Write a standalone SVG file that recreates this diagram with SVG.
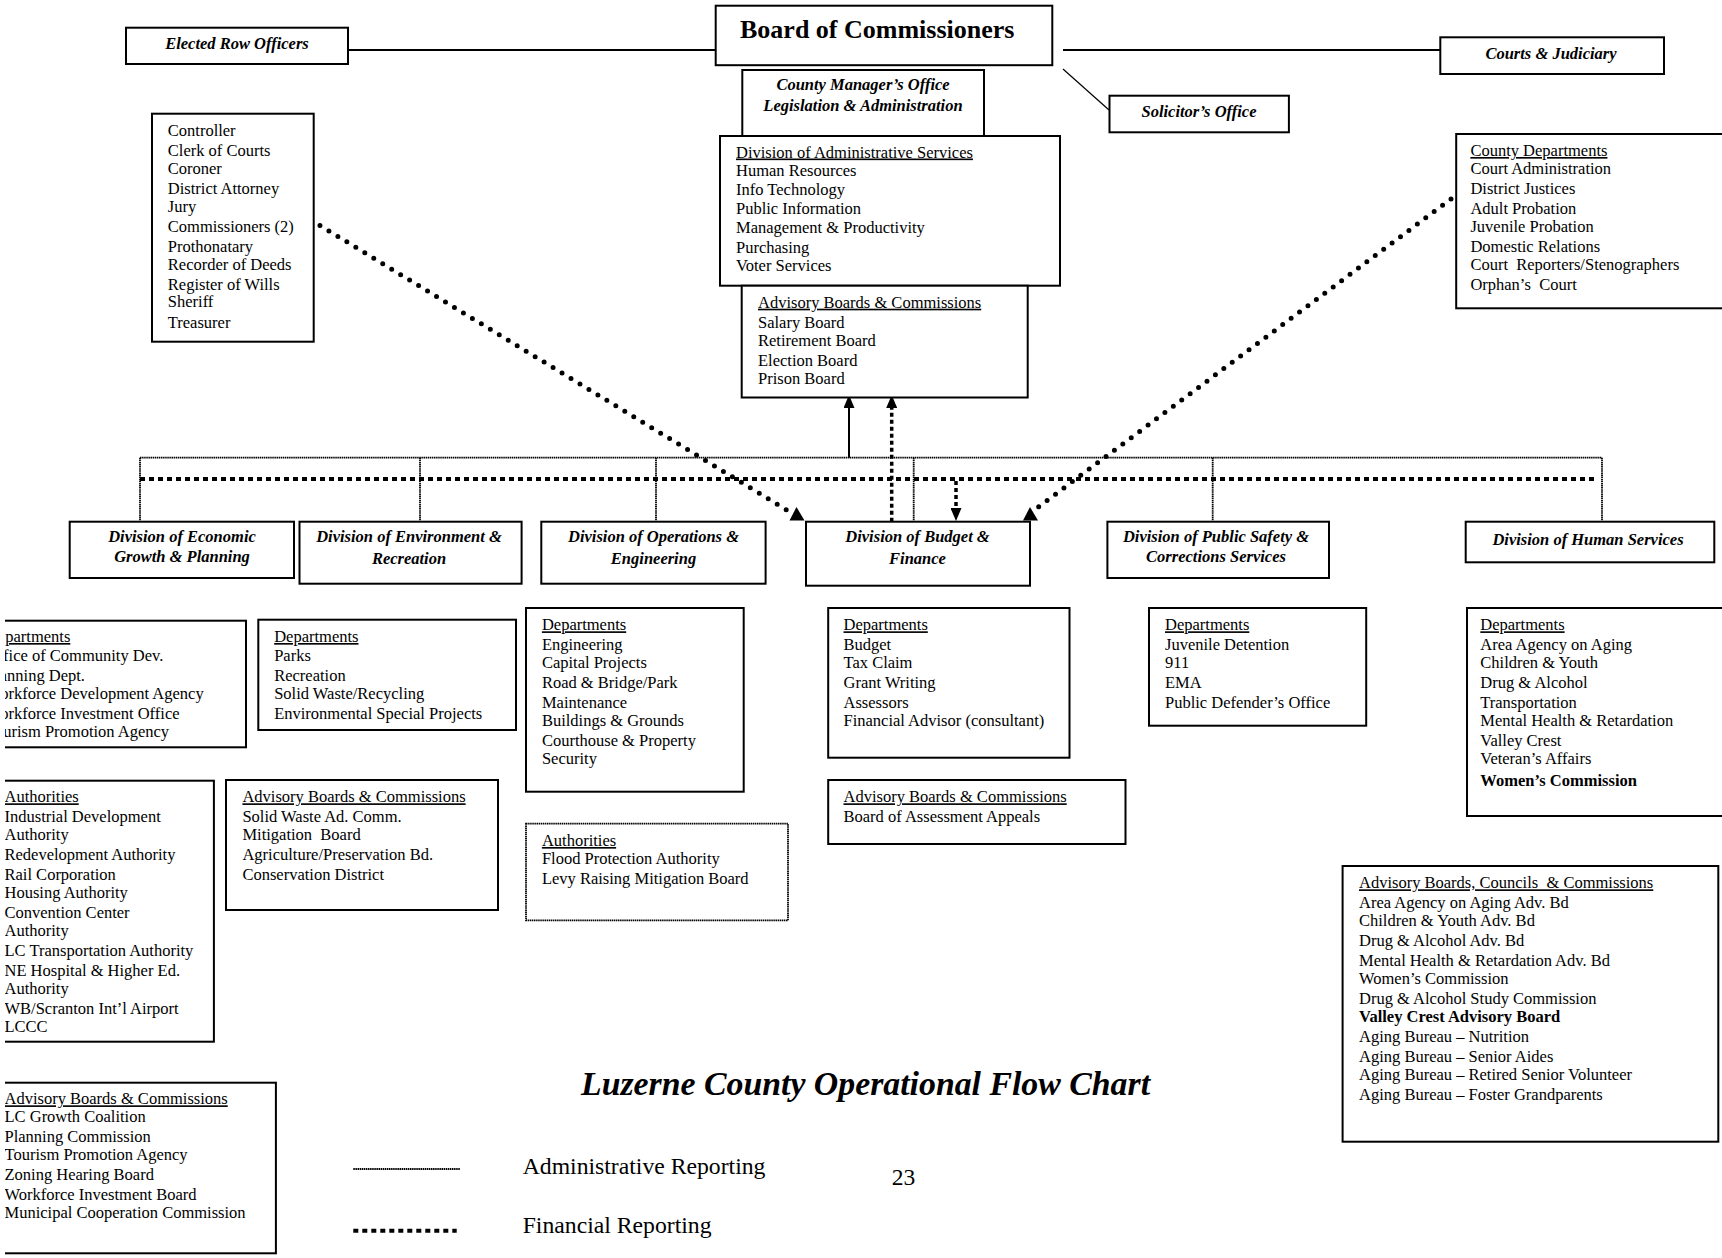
<svg xmlns="http://www.w3.org/2000/svg" xmlns:xlink="http://www.w3.org/1999/xlink" width="1722" height="1258" viewBox="0 0 1722 1258" xml:space="preserve">
<style>
text{font-family:"Liberation Serif","Times New Roman",serif;font-size:16.5px;fill:#000;white-space:pre}
.bi{font-weight:bold;font-style:italic}
.b{font-weight:bold}
.u{text-decoration:underline}
.c{text-anchor:middle}
.box{fill:#fff;stroke:#000;stroke-width:2}
.dbox{fill:#fff;stroke:#000;stroke-width:1.8;stroke-dasharray:1.5 0.6}
.solid{fill:none;stroke:#000;stroke-width:2}
.thin{fill:none;stroke:#000;stroke-width:1.2}
.adm{fill:none;stroke:#000;stroke-width:1.8;stroke-dasharray:1.5 0.6}
.fin{fill:none;stroke:#000;stroke-width:4;stroke-dasharray:5 4}
.finv{fill:none;stroke:#000;stroke-width:3.5;stroke-dasharray:4 3}
.dots{fill:none;stroke:#000;stroke-width:5;stroke-linecap:round;stroke-dasharray:0 10.5}
</style>
<defs>
<marker id="ah" viewBox="0 0 13 11" refX="0" refY="5.5" markerWidth="13" markerHeight="11" orient="auto" markerUnits="userSpaceOnUse"><path d="M0,0 L13,5.5 L0,11 z" fill="#000"/></marker>
<path id="tri" d="M-7.5,0 L7.5,0 L-0.5,-13.5 z" fill="#000"/>
<clipPath id="lclip"><rect x="5" y="0" width="1717" height="1258"/></clipPath>
</defs>
<rect x="0" y="0" width="1722" height="1258" fill="#fff"/>

<g id="connectors">
<line class="solid" x1="348" y1="50" x2="716" y2="50"/>
<line class="solid" x1="1063" y1="50" x2="1440" y2="50"/>
<line class="thin" x1="1063" y1="69" x2="1109" y2="110"/>
<line class="adm" x1="140" y1="457.7" x2="1602" y2="457.7"/>
<line class="adm" x1="140" y1="457.7" x2="140" y2="521.7"/>
<line class="adm" x1="420" y1="457.7" x2="420" y2="521.7"/>
<line class="adm" x1="656" y1="457.7" x2="656" y2="521.7"/>
<line class="adm" x1="913.7" y1="457.7" x2="913.7" y2="521.7"/>
<line class="adm" x1="1212.7" y1="457.7" x2="1212.7" y2="521.7"/>
<line class="adm" x1="1602" y1="457.7" x2="1602" y2="521.7"/>
<line class="fin" x1="140" y1="479" x2="1597" y2="479"/>
<line class="solid" x1="849" y1="457.7" x2="849" y2="408" marker-end="url(#ah)"/>
<line class="finv" x1="891.7" y1="521.7" x2="891.7" y2="408" marker-end="url(#ah)"/>
<line class="finv" x1="956" y1="481" x2="956" y2="508" marker-end="url(#ah)"/>
<line class="dots" x1="311" y1="220" x2="790" y2="512"/>
<use xlink:href="#tri" x="797" y="520.5"/>
<line class="dots" x1="1451" y1="199" x2="1037" y2="508"/>
<use xlink:href="#tri" x="1030.5" y="520.5"/>
</g>

<g id="board">
<rect class="box" x="715.7" y="5.7" width="336.6" height="59.5"/>
<text class="b" x="740" y="37.5" style="font-size:26px">Board of Commissioners</text>
</g>
<g id="elected-row-officers">
<rect class="box" x="126" y="27.7" width="222" height="36.3"/>
<text class="bi c" x="237" y="48.5">Elected Row Officers</text>
</g>
<g id="courts-judiciary">
<rect class="box" x="1440.3" y="37.3" width="223.7" height="36.7"/>
<text class="bi c" x="1551" y="59">Courts &amp; Judiciary</text>
</g>
<g id="solicitor">
<rect class="box" x="1109.5" y="95.7" width="179.4" height="36.6"/>
<text class="bi c" x="1199" y="116.5">Solicitor’s Office</text>
</g>
<g id="county-manager">
<rect class="box" x="742.3" y="70" width="241.7" height="66"/>
<text class="bi c" x="863" y="90">County Manager’s Office</text>
<text class="bi c" x="863" y="111">Legislation &amp; Administration</text>
</g>
<g id="admin-services">
<rect class="box" x="720" y="136" width="340" height="149.7"/>
<text class="u" x="736" y="157.5">Division of Administrative Services</text>
<text x="736" y="175.5">Human Resources</text>
<text x="736" y="195">Info Technology</text>
<text x="736" y="213.5">Public Information</text>
<text x="736" y="233.3">Management &amp; Productivity</text>
<text x="736" y="253">Purchasing</text>
<text x="736" y="270.8">Voter Services</text>
</g>
<g id="admin-advisory">
<rect class="box" x="741.7" y="285.7" width="286" height="111.8"/>
<text class="u" x="758" y="307.7">Advisory Boards &amp; Commissions</text>
<text x="758" y="327.5">Salary Board</text>
<text x="758" y="345.5">Retirement Board</text>
<text x="758" y="365.5">Election Board</text>
<text x="758" y="383.5">Prison Board</text>
</g>
<g id="row-officers-list">
<rect class="box" x="152" y="113.7" width="161.7" height="228"/>
<text x="167.8" y="135.5">Controller</text>
<text x="167.8" y="155.5">Clerk of Courts</text>
<text x="167.8" y="173.5">Coroner</text>
<text x="167.8" y="193.5">District Attorney</text>
<text x="167.8" y="211.5">Jury</text>
<text x="167.8" y="231.5">Commissioners (2)</text>
<text x="167.8" y="251.5">Prothonatary</text>
<text x="167.8" y="269.5">Recorder of Deeds</text>
<text x="167.8" y="289.5">Register of Wills</text>
<text x="167.8" y="306.5">Sheriff</text>
<text x="167.8" y="327.5">Treasurer</text>
</g>
<g id="county-departments">
<rect class="box" x="1456.2" y="134" width="275" height="174.3"/>
<text class="u" x="1470.4" y="156">County Departments</text>
<text x="1470.4" y="174">Court Administration</text>
<text x="1470.4" y="194">District Justices</text>
<text x="1470.4" y="214">Adult Probation</text>
<text x="1470.4" y="232">Juvenile Probation</text>
<text x="1470.4" y="252">Domestic Relations</text>
<text x="1470.4" y="270">Court  Reporters/Stenographers</text>
<text x="1470.4" y="290">Orphan’s  Court</text>
</g>

<g id="div-economic">
<rect class="box" x="69.7" y="521.7" width="224.3" height="56.3"/>
<text class="bi c" x="182" y="542">Division of Economic</text>
<text class="bi c" x="182" y="562">Growth &amp; Planning</text>
</g>
<g id="div-environment">
<rect class="box" x="299.5" y="521.7" width="222.1" height="62"/>
<text class="bi c" x="409" y="542">Division of Environment &amp;</text>
<text class="bi c" x="409" y="564">Recreation</text>
</g>
<g id="div-operations">
<rect class="box" x="541.3" y="521.7" width="224.3" height="62"/>
<text class="bi c" x="653.5" y="542">Division of Operations &amp;</text>
<text class="bi c" x="653.5" y="564">Engineering</text>
</g>
<g id="div-budget">
<rect class="box" x="806" y="521.7" width="224" height="64"/>
<text class="bi c" x="917.5" y="542">Division of Budget &amp;</text>
<text class="bi c" x="917.5" y="564">Finance</text>
</g>
<g id="div-public-safety">
<rect class="box" x="1107.4" y="521.7" width="221.6" height="56.3"/>
<text class="bi c" x="1216" y="542">Division of Public Safety &amp;</text>
<text class="bi c" x="1216" y="562">Corrections Services</text>
</g>
<g id="div-human-services">
<rect class="box" x="1465.7" y="521.7" width="248.6" height="40.6"/>
<text class="bi c" x="1588" y="545">Division of Human Services</text>
</g>

<g clip-path="url(#lclip)">
<g id="econ-departments">
<rect class="box" x="-10" y="620.7" width="256" height="126.6"/>
<text class="u" x="-14" y="642">Departments</text>
<text x="-14" y="660.5">Office of Community Dev.</text>
<text x="-14" y="680.5">Planning Dept.</text>
<text x="-14" y="698.5">Workforce Development Agency</text>
<text x="-14" y="718.5">Workforce Investment Office</text>
<text x="-14" y="737">Tourism Promotion Agency</text>
</g>
<g id="econ-authorities">
<rect class="box" x="-10" y="780.7" width="223.9" height="261"/>
<text class="u" x="4.5" y="802.3">Authorities</text>
<text x="4.5" y="822.3">Industrial Development</text>
<text x="4.5" y="840.3">Authority</text>
<text x="4.5" y="860.3">Redevelopment Authority</text>
<text x="4.5" y="880.3">Rail Corporation</text>
<text x="4.5" y="898.3">Housing Authority</text>
<text x="4.5" y="918.3">Convention Center</text>
<text x="4.5" y="936.3">Authority</text>
<text x="4.5" y="956.3">LC Transportation Authority</text>
<text x="4.5" y="976.3">NE Hospital &amp; Higher Ed.</text>
<text x="4.5" y="994.3">Authority</text>
<text x="4.5" y="1014.3">WB/Scranton Int’l Airport</text>
<text x="4.5" y="1031.7">LCCC</text>
</g>
<g id="econ-advisory">
<rect class="box" x="-10" y="1082.7" width="285.9" height="170.6"/>
<text class="u" x="4.5" y="1104.3">Advisory Boards &amp; Commissions</text>
<text x="4.5" y="1122.3">LC Growth Coalition</text>
<text x="4.5" y="1142.3">Planning Commission</text>
<text x="4.5" y="1160.3">Tourism Promotion Agency</text>
<text x="4.5" y="1180.3">Zoning Hearing Board</text>
<text x="4.5" y="1200.3">Workforce Investment Board</text>
<text x="4.5" y="1218.3">Municipal Cooperation Commission</text>
</g>
</g>

<g id="env-departments">
<rect class="box" x="258.3" y="619.7" width="257.7" height="110.3"/>
<text class="u" x="274.2" y="642">Departments</text>
<text x="274.2" y="660.5">Parks</text>
<text x="274.2" y="680.5">Recreation</text>
<text x="274.2" y="698.5">Solid Waste/Recycling</text>
<text x="274.2" y="718.5">Environmental Special Projects</text>
</g>
<g id="env-advisory">
<rect class="box" x="226" y="780" width="272" height="130"/>
<text class="u" x="242.4" y="802.3">Advisory Boards &amp; Commissions</text>
<text x="242.4" y="822.3">Solid Waste Ad. Comm.</text>
<text x="242.4" y="840.3">Mitigation  Board</text>
<text x="242.4" y="860.3">Agriculture/Preservation Bd.</text>
<text x="242.4" y="880.3">Conservation District</text>
</g>
<g id="ops-departments">
<rect class="box" x="526" y="608" width="217.7" height="183.7"/>
<text class="u" x="541.9" y="630.3">Departments</text>
<text x="541.9" y="650.3">Engineering</text>
<text x="541.9" y="668.3">Capital Projects</text>
<text x="541.9" y="688.3">Road &amp; Bridge/Park</text>
<text x="541.9" y="708.3">Maintenance</text>
<text x="541.9" y="726.3">Buildings &amp; Grounds</text>
<text x="541.9" y="746.3">Courthouse &amp; Property</text>
<text x="541.9" y="764.3">Security</text>
</g>
<g id="ops-authorities">
<rect class="dbox" x="526" y="823.7" width="262" height="96.6"/>
<text class="u" x="541.9" y="846">Authorities</text>
<text x="541.9" y="864">Flood Protection Authority</text>
<text x="541.9" y="884">Levy Raising Mitigation Board</text>
</g>
<g id="budget-departments">
<rect class="box" x="828.2" y="608" width="241.3" height="149.7"/>
<text class="u" x="843.5" y="630.3">Departments</text>
<text x="843.5" y="650.3">Budget</text>
<text x="843.5" y="668.3">Tax Claim</text>
<text x="843.5" y="688.3">Grant Writing</text>
<text x="843.5" y="708.3">Assessors</text>
<text x="843.5" y="726.3">Financial Advisor (consultant)</text>
</g>
<g id="budget-advisory">
<rect class="box" x="828.2" y="780" width="297.3" height="64"/>
<text class="u" x="843.5" y="802.3">Advisory Boards &amp; Commissions</text>
<text x="843.5" y="822.3">Board of Assessment Appeals</text>
</g>
<g id="ps-departments">
<rect class="box" x="1149" y="608" width="217.2" height="117.7"/>
<text class="u" x="1165" y="630.3">Departments</text>
<text x="1165" y="650.3">Juvenile Detention</text>
<text x="1165" y="668.3">911</text>
<text x="1165" y="688.3">EMA</text>
<text x="1165" y="708.3">Public Defender’s Office</text>
</g>
<g id="hs-departments">
<rect class="box" x="1467" y="608" width="265" height="208"/>
<text class="u" x="1480.3" y="630.3">Departments</text>
<text x="1480.3" y="650.3">Area Agency on Aging</text>
<text x="1480.3" y="668.3">Children &amp; Youth</text>
<text x="1480.3" y="688.3">Drug &amp; Alcohol</text>
<text x="1480.3" y="708.3">Transportation</text>
<text x="1480.3" y="726.3">Mental Health &amp; Retardation</text>
<text x="1480.3" y="746.3">Valley Crest</text>
<text x="1480.3" y="764.3">Veteran’s Affairs</text>
<text class="b" x="1480.3" y="786">Women’s Commission</text>
</g>
<g id="hs-advisory">
<rect class="box" x="1342.6" y="866" width="375.7" height="275.7"/>
<text class="u" x="1359" y="888.3">Advisory Boards, Councils  &amp; Commissions</text>
<text x="1359" y="908.3">Area Agency on Aging Adv. Bd</text>
<text x="1359" y="926.3">Children &amp; Youth Adv. Bd</text>
<text x="1359" y="946.3">Drug &amp; Alcohol Adv. Bd</text>
<text x="1359" y="966.3">Mental Health &amp; Retardation Adv. Bd</text>
<text x="1359" y="984.3">Women’s Commission</text>
<text x="1359" y="1004.3">Drug &amp; Alcohol Study Commission</text>
<text class="b" x="1359" y="1022.3">Valley Crest Advisory Board</text>
<text x="1359" y="1042.3">Aging Bureau – Nutrition</text>
<text x="1359" y="1062.3">Aging Bureau – Senior Aides</text>
<text x="1359" y="1080.3">Aging Bureau – Retired Senior Volunteer</text>
<text x="1359" y="1100.3">Aging Bureau – Foster Grandparents</text>
</g>

<g id="title">
<text class="bi" x="581" y="1095" style="font-size:33.8px">Luzerne County Operational Flow Chart</text>
</g>
<g id="legend">
<line class="adm" x1="353.3" y1="1169" x2="460" y2="1169"/>
<text x="522.7" y="1174" style="font-size:23.7px">Administrative Reporting</text>
<line class="fin" x1="353.3" y1="1230.7" x2="456.7" y2="1230.7"/>
<text x="522.7" y="1232.7" style="font-size:23.7px">Financial Reporting</text>
</g>
<g id="page-number">
<text x="891.8" y="1185" style="font-size:23.5px">23</text>
</g>
</svg>
